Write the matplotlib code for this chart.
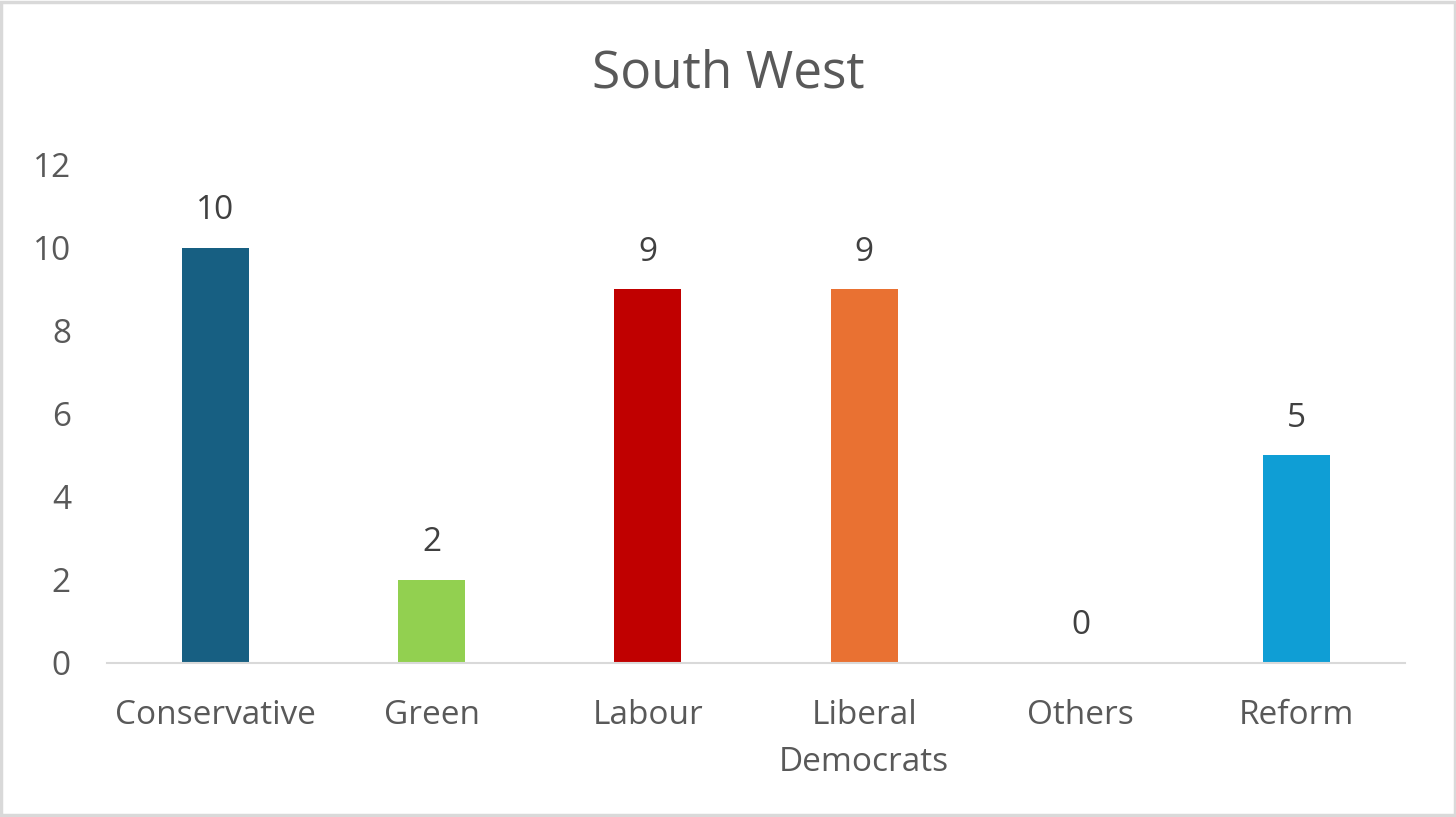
import matplotlib.pyplot as plt
from matplotlib.patches import Rectangle

parties = ["Conservative", "Green", "Labour", "Liberal\nDemocrats", "Others", "Reform"]
seats = [10, 2, 9, 9, 0, 5]
colours = ["#175F82", "#92D050", "#C00000", "#E97132", "#7F7F7F", "#0F9ED5"]
yticks = [0, 2, 4, 6, 8, 10, 12]

plt.rcParams['font.family'] = ['Open Sans', 'DejaVu Sans']

fig = plt.figure(figsize=(14.56, 8.17), dpi=100)
ax = fig.add_axes([0.0735, 0.1885, 0.8915, 0.6096])

x = range(len(parties))
bars = ax.bar(x, seats, width=0.31, color=colours)
for xi, v in zip(x, seats):
  ax.annotate(str(v), (xi, v), xytext=(0, 15), textcoords="offset points",
              ha="center", va="bottom", fontsize=24, color="#404040")

ax.set_xlim(-0.5, len(parties) - 0.5)
ax.set_ylim(0, 12)
ax.set_yticks(yticks)
ax.set_xticks(list(x))
ax.set_xticklabels(parties, linespacing=1.55)
ax.tick_params(axis="both", length=0, labelsize=24, labelcolor="#595959")
ax.tick_params(axis="x", pad=26)
ax.tick_params(axis="y", pad=26)
for lab in ax.get_yticklabels():
  lab.set_horizontalalignment("right")

for s in ["top", "right", "left"]:
  ax.spines[s].set_visible(False)
ax.spines["bottom"].set_color("#D9D9D9")
ax.spines["bottom"].set_linewidth(1.5)

fig.text(0.5, 0.91, "South West", ha="center", va="center", fontsize=37, color="#595959")

fig.patches.append(Rectangle((0.001, 0.002), 0.998, 0.996, transform=fig.transFigure,
                             fill=False, edgecolor="#D9D9D9", linewidth=2.5))

fig.savefig("out.png", dpi=100, facecolor="white")
